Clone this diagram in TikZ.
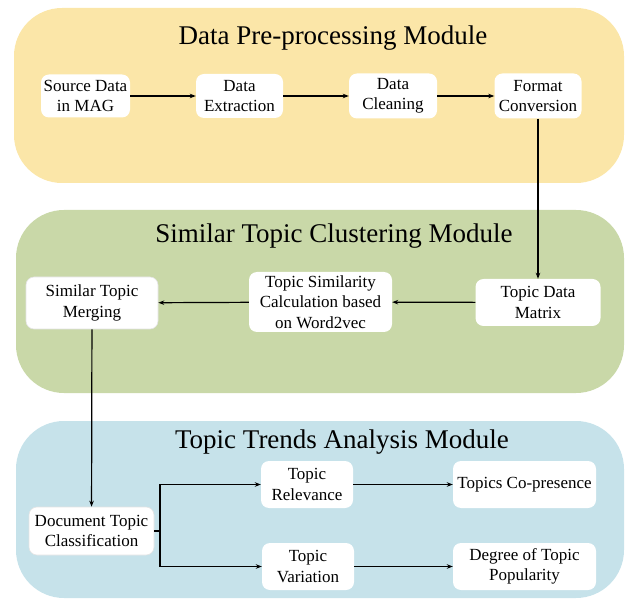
\documentclass[tikz,border=0pt]{standalone}
\usepackage{fontspec}
\setmainfont{Liberation Serif}
\usetikzlibrary{arrows.meta}
\definecolor{modyellow}{HTML}{FBE6A8}
\definecolor{modgreen}{HTML}{C9D8A8}
\definecolor{modblue}{HTML}{C6E2EA}
\definecolor{faint}{HTML}{E4E4E4}
\tikzset{
  module/.style={rounded corners=48pt},
  title/.style={anchor=base, font=\fontsize{27}{30}\selectfont, inner sep=0pt},
  box/.style={fill=white, rounded corners=8pt, align=center, inner sep=0pt,
    font=\fontsize{17}{20.5}\selectfont},
  faintbox/.style={box, draw=faint, line width=0.6pt},
  conn/.style={line width=1.2pt, -{Stealth[length=6pt,width=4.5pt]}},
  plain/.style={line width=1.2pt}
}
\begin{document}
\begin{tikzpicture}[x=1pt,y=-1pt]
\useasboundingbox (0,0) rectangle (626,601);
% modules
\fill[modyellow, module] (14,8) rectangle (624,183);
\fill[modgreen, module] (16,210) rectangle (624,393);
\fill[modblue, module] (16,421) rectangle (624,598);
\node[title] (t1) at (333,45) {Data Pre-processing Module};
\node[title] (t2) at (334,243) {Similar Topic Clustering Module};
\node[title] (t3) at (342,448) {Topic Trends Analysis Module};
% top row
\node[box, minimum width=89pt, minimum height=43pt] (src) at (85.5,96) {Source Data\\in MAG};
\node[box, minimum width=87pt, minimum height=44pt] (ext) at (239.5,96) {Data\\Extraction};
\node[box, minimum width=88pt, minimum height=45pt] (cln) at (393,96) {Data\\Cleaning};
\node[box, minimum width=87pt, minimum height=45pt] (fmt) at (538,96) {Format\\Conversion};
% middle row
\node[box, minimum width=125pt, minimum height=47pt] (tdm) at (538,302.5) {Topic Data\\Matrix};
\node[box, minimum width=143pt, minimum height=60pt] (sim) at (320.5,302) {Topic Similarity\\Calculation based\\on Word2vec};
\node[faintbox, minimum width=132pt, minimum height=52pt] (mrg) at (92,303) {Similar Topic\\Merging};
% bottom
\node[faintbox, minimum width=125pt, minimum height=48pt] (doc) at (91.5,531) {Document Topic\\Classification};
\node[box, minimum width=92pt, minimum height=47pt] (rel) at (307,484.5) {Topic\\Relevance};
\node[box, minimum width=143pt, minimum height=47pt] (cop) at (524.5,484.5) {Topics Co-presence};
\node[box, minimum width=92pt, minimum height=47pt] (var) at (308,566.5) {Topic\\Variation};
\node[box, minimum width=143pt, minimum height=47pt] (pop) at (524.5,566.5) {Degree of Topic\\Popularity};
% connectors
\draw[conn] (src) -- (ext);
\draw[conn] (ext) -- (cln);
\draw[conn] (cln) -- (fmt);
\draw[conn] (fmt) -- (tdm);
\draw[conn] (tdm) -- (sim);
\draw[conn] (sim) -- (mrg);
\draw[conn] (mrg) -- (doc);
\coordinate (br) at (160,531);
\draw[plain] (doc.east) -- (br);
\draw[conn] (br) |- (rel.west);
\draw[conn] (br) |- (var.west);
\draw[conn] (rel) -- (cop);
\draw[conn] (var) -- (pop);
\end{tikzpicture}
\end{document}
